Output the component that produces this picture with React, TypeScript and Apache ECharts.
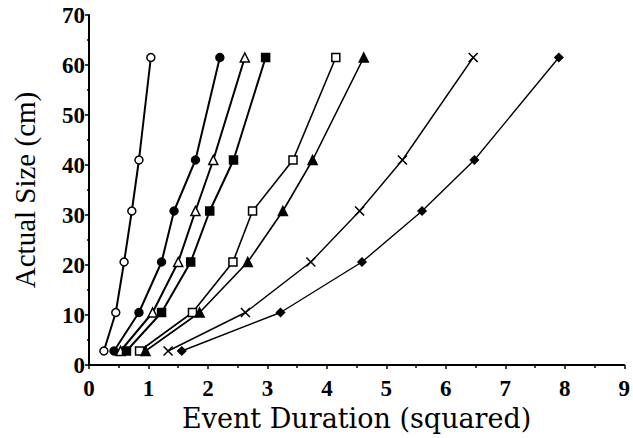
import React, { useEffect, useRef } from "react";
import * as echarts from "echarts";

const sizes = [2.8, 10.5, 20.6, 30.8, 41.0, 61.5];

const openCircleX = [0.25, 0.45, 0.59, 0.72, 0.84, 1.04];
const filledCircleX = [0.42, 0.84, 1.22, 1.43, 1.79, 2.2];
const openTriangleX = [0.53, 1.07, 1.5, 1.79, 2.09, 2.62];
const filledSquareX = [0.63, 1.22, 1.71, 2.03, 2.43, 2.97];
const openSquareX = [0.85, 1.74, 2.42, 2.75, 3.43, 4.15];
const filledTriangleX = [0.95, 1.86, 2.67, 3.26, 3.76, 4.62];
const crossX = [1.33, 2.63, 3.73, 4.55, 5.27, 6.46];
const diamondX = [1.56, 3.22, 4.59, 5.6, 6.48, 7.9];

const xTicks = [0, 1, 2, 3, 4, 5, 6, 7, 8, 9];
const yTicks = [0, 10, 20, 30, 40, 50, 60, 70];

const CROSS = "path://M0,0L10,10M10,0L0,10";

type Spec = { name: string; xs: number[]; symbol: string; size: number; filled: boolean; lw: number };

const specs: Spec[] = [
  { name: "open circle", xs: openCircleX, symbol: "circle", size: 8, filled: false, lw: 2 },
  { name: "filled circle", xs: filledCircleX, symbol: "circle", size: 8, filled: true, lw: 2 },
  { name: "open triangle", xs: openTriangleX, symbol: "triangle", size: 9, filled: false, lw: 2 },
  { name: "filled square", xs: filledSquareX, symbol: "rect", size: 8, filled: true, lw: 2 },
  { name: "open square", xs: openSquareX, symbol: "rect", size: 8, filled: false, lw: 1.6 },
  { name: "filled triangle", xs: filledTriangleX, symbol: "triangle", size: 9, filled: true, lw: 1.6 },
  { name: "cross", xs: crossX, symbol: CROSS, size: 9, filled: false, lw: 1.4 },
  { name: "diamond", xs: diamondX, symbol: "diamond", size: 8, filled: true, lw: 1.4 },
];

export default function App() {
  const ref = useRef<HTMLDivElement>(null);
  useEffect(() => {
    if (!ref.current) return;
    const chart = echarts.init(ref.current, null, { renderer: "svg" });
    const tickFont = {
      fontFamily: "Liberation Sans Narrow",
      fontWeight: "bold" as const,
      fontSize: 23,
      color: "#000",
    };
    chart.setOption({
      animation: false,
      backgroundColor: "#fff",
      grid: { left: 89, right: 3, top: 15, bottom: 73, containLabel: false },
      xAxis: {
        type: "value",
        min: 0,
        max: 9,
        interval: 1,
        name: "Event Duration (squared)",
        nameLocation: "middle",
        nameGap: 38,
        nameTextStyle: { fontFamily: "DejaVu Serif", fontSize: 27, color: "#000" },
        axisLine: { onZero: false, lineStyle: { color: "#000", width: 2 } },
        axisTick: { show: true, inside: false, length: 4, lineStyle: { color: "#000", width: 1.5 } },
        minorTick: { show: true, splitNumber: 2, length: 3, lineStyle: { color: "#000", width: 1.5 } },
        splitLine: { show: false },
        axisLabel: {
          ...tickFont,
          margin: 12,
          formatter: (v: number) => (xTicks.includes(v) ? String(v) : ""),
        },
      },
      yAxis: {
        type: "value",
        min: 0,
        max: 70,
        interval: 10,
        name: "Actual Size (cm)",
        nameLocation: "middle",
        nameGap: 50,
        nameRotate: 90,
        nameTextStyle: { fontFamily: "Liberation Serif", fontSize: 29, color: "#000" },
        axisLine: { onZero: false, lineStyle: { color: "#000", width: 2 } },
        axisTick: { show: true, inside: false, length: 4, lineStyle: { color: "#000", width: 1.5 } },
        minorTick: { show: true, splitNumber: 2, length: 2, lineStyle: { color: "#000", width: 1.5 } },
        splitLine: { show: false },
        axisLabel: {
          ...tickFont,
          margin: 4,
          formatter: (v: number) => (yTicks.includes(v) ? String(v) : ""),
        },
      },
      series: specs.map((s) => ({
        name: s.name,
        type: "line",
        data: s.xs.map((x, i) => [x, sizes[i]]),
        symbol: s.symbol,
        symbolSize: s.size,
        showSymbol: true,
        lineStyle: { color: "#000", width: s.lw },
        itemStyle: {
          color: s.filled ? "#000" : "#fff",
          borderColor: "#000",
          borderWidth: s.symbol === CROSS ? 1.6 : 1.5,
        },
        z: 3,
      })),
    });
    return () => chart.dispose();
  }, []);
  return (
    <div
      ref={ref}
      style={{ position: "absolute", left: 0, top: 0, width: 633, height: 438, background: "#fff" }}
    />
  );
}
